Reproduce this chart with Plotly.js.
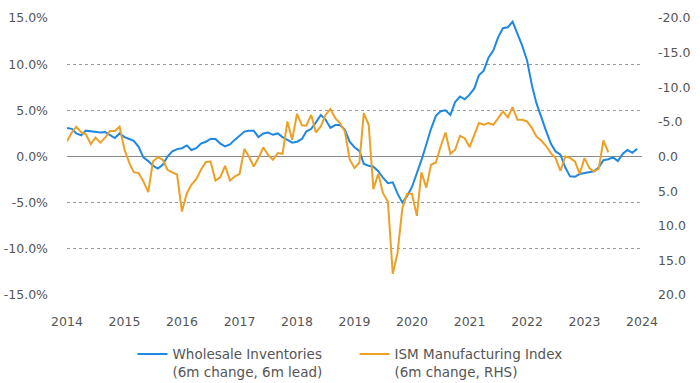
<!DOCTYPE html>
<html>
<head>
<meta charset="utf-8">
<script src="https://cdn.plot.ly/plotly-3.0.1.min.js"></script>
<style>
  html, body { margin: 0; padding: 0; background: #fff; }
  #chart { width: 700px; height: 383px; }
</style>
</head>
<body>
<div id="chart"></div>
<script>
// Monthly series, starting January 2014
const startYear = 2014;

// Wholesale Inventories, 6m change, 6m lead (%), left axis
const wholesaleInventories = [
  3.1, 3.0, 2.5, 2.3, 2.8, 2.75, 2.7, 2.6, 2.65, 2.3, 2.0, 2.5,
  2.1, 1.9, 1.7, 1.05, -0.1, -0.5, -1.0, -1.3, -0.9, 0.0, 0.55, 0.8,
  0.9, 1.2, 0.7, 0.9, 1.4, 1.6, 1.9, 1.9, 1.4, 1.1, 1.3, 1.8,
  2.3, 2.7, 2.8, 2.8, 2.1, 2.5, 2.6, 2.35, 2.5, 2.1, 1.8, 1.5,
  1.6, 1.9, 2.7, 3.0, 3.7, 4.5, 4.0, 3.1, 3.4, 3.4, 2.9, 1.6,
  1.0, 0.6, -0.8, -1.0, -1.1, -1.6, -2.3, -2.9, -2.8, -4.0, -5.0, -4.3,
  -3.3, -1.9, -0.4, 1.3, 3.0, 4.4, 4.9, 5.0, 4.5, 5.9, 6.5, 6.2,
  6.7, 7.4, 8.8, 9.3, 10.7, 11.5, 12.9, 13.9, 14.0, 14.6, 13.3, 12.0,
  10.4, 7.7, 5.8, 4.2, 2.8, 1.4, 0.55, 0.2, -1.2, -2.15, -2.2, -1.9,
  -1.8, -1.75, -1.6, -1.2, -0.4, -0.3, -0.1, -0.5, 0.3, 0.7, 0.4, 0.85
];

// ISM Manufacturing Index, 6m change (RHS, inverted axis)
const ismManufacturing = [
  -2.2, -3.5, -4.3, -3.5, -3.2, -1.8, -2.75, -2.0, -2.75, -3.7, -3.7, -4.3,
  -1.0, 0.96, 2.26, 2.4, 3.6, 5.15, 0.72, 0.1, 0.48, 1.92, 2.3, 2.6,
  7.95, 5.3, 4.1, 3.27, 1.92, 0.8, 0.72, 3.47, 2.98, 1.34, 3.47, 2.9,
  2.5, -1.1, 0.0, 1.44, 0.23, -1.3, -0.25, 0.48, -0.49, -0.39, -5.06, -2.41,
  -6.17, -4.5, -4.44, -6.0, -3.47, -4.34, -6.0, -6.85, -5.55, -4.8, -3.6, 0.38,
  1.68, 0.87, -6.27, -4.58, 4.71, 2.5, 5.29, 6.5, 16.95, 13.96, 7.46, 5.39,
  5.39, 8.57, 2.3, 4.5, 1.2, 0.87, -1.45, -3.47, -0.39, -0.97, -2.99, -2.65,
  -1.36, -3.14, -4.83, -4.58, -4.83, -4.58, -5.55, -6.5, -5.64, -7.14, -5.3, -5.3,
  -5.06, -4.1, -2.9, -2.3, -1.55, -0.49, 0.23, 2.07, 0.0, 0.2, 0.72, 2.5,
  0.23, 1.68, 2.17, 1.8, -2.31, -0.58
];

const seriesNames = [
  'Wholesale Inventories<br>(6m change, 6m lead)',
  'ISM Manufacturing Index<br>(6m change, RHS)'
];

// Axis tick values and labels
const leftTickVals = [-15, -10, -5, 0, 5, 10, 15];
const leftTickText = ['-15.0%', '-10.0%', '-5.0%', '0.0%', '5.0%', '10.0%', '15.0%'];
const rightTickVals = [-20, -15, -10, -5, 0, 5, 10, 15, 20];
const rightTickText = ['-20.0', '-15.0', '-10.0', '-5.0', '0.0', '5.0', '10.0', '15.0', '20.0'];

function monthDates(n) {
  const out = [];
  for (let i = 0; i < n; i++) {
    const y = startYear + Math.floor(i / 12);
    const m = (i % 12) + 1;
    out.push(y + '-' + (m < 10 ? '0' + m : m) + '-01');
  }
  return out;
}

const blue = '#1f88e0';
const orange = '#eca126';
const tickColor = '#555';
const fontFam = '"DejaVu Sans", sans-serif';

const traces = [
  {
    x: monthDates(wholesaleInventories.length),
    y: wholesaleInventories,
    name: seriesNames[0],
    type: 'scatter', mode: 'lines',
    line: { color: blue, width: 2 },
    yaxis: 'y'
  },
  {
    x: monthDates(ismManufacturing.length),
    y: ismManufacturing,
    name: seriesNames[1],
    type: 'scatter', mode: 'lines',
    line: { color: orange, width: 2 },
    yaxis: 'y2'
  }
];

const layout = {
  width: 700, height: 383,
  margin: { l: 67, r: 58, t: 18, b: 88, autoexpand: false },
  paper_bgcolor: '#fff', plot_bgcolor: '#fff',
  font: { family: fontFam, size: 12.5, color: tickColor },
  showlegend: true,
  legend: {
    orientation: 'h', x: 0.5, xanchor: 'center', y: -0.158, yanchor: 'top',
    font: { family: fontFam, size: 13.5, color: '#555' },
    valign: 'top', entrywidth: 177, entrywidthmode: 'pixels', tracegroupgap: 0
  },
  xaxis: {
    type: 'date',
    range: ['2014-01-01', '2024-01-01'],
    dtick: 'M12', tickformat: '%Y',
    showgrid: false, zeroline: false, showline: false,
    ticks: '', ticklabelstandoff: 17,
    tickfont: { family: fontFam, size: 12.5, color: tickColor }
  },
  yaxis: {
    range: [-15, 15],
    tickmode: 'array', tickvals: leftTickVals, ticktext: leftTickText,
    showgrid: true, gridcolor: '#9a9a9a', griddash: 'dot', gridwidth: 1,
    zeroline: true, zerolinecolor: '#8a8a8a', zerolinewidth: 1.5,
    showline: false, ticks: '', ticklabelstandoff: 18,
    tickfont: { family: fontFam, size: 12.5, color: tickColor }
  },
  yaxis2: {
    overlaying: 'y', side: 'right',
    range: [20, -20],
    tickmode: 'array', tickvals: rightTickVals, ticktext: rightTickText,
    showgrid: false, zeroline: false, showline: false,
    ticks: '', ticklabelstandoff: 15,
    tickfont: { family: fontFam, size: 12.5, color: tickColor }
  }
};

Plotly.newPlot('chart', traces, layout, { displayModeBar: false, staticPlot: true });
</script>
</body>
</html>
